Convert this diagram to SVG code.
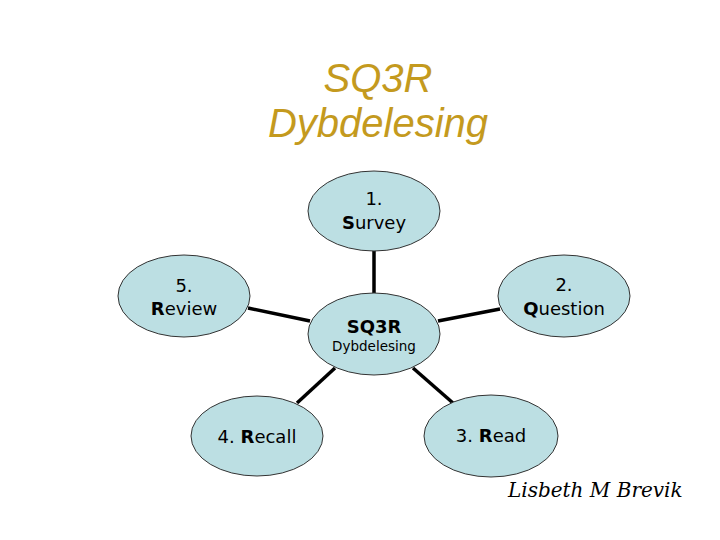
<svg xmlns="http://www.w3.org/2000/svg" width="720" height="540" viewBox="0 0 720 540">
<style>
.title{font-family:"Liberation Sans",Arial,sans-serif;font-size:40px;font-style:italic;fill:#C49A1E;text-anchor:middle}
.node ellipse{fill:#BCDFE3;stroke:#333;stroke-width:1}
.lbl{font-family:"DejaVu Sans",sans-serif;font-size:18px;fill:#000;text-anchor:middle}
.b{font-weight:bold}
.conn line{stroke:#000;stroke-width:3.5;stroke-linecap:butt}
.sig{font-family:"DejaVu Serif","Liberation Serif",serif;font-style:italic;font-size:20px;fill:#000}
</style>
<rect width="720" height="540" fill="#fff"/>
<text class="title" x="378" y="92">SQ3R</text>
<text class="title" x="378" y="137">Dybdelesing</text>
<g id="connectors" class="conn">
<line x1="374" y1="250" x2="374" y2="294"/>
<line x1="248" y1="308" x2="310" y2="321"/>
<line x1="438" y1="321" x2="500" y2="309"/>
<line x1="297" y1="403" x2="335" y2="368"/>
<line x1="413" y1="368" x2="453" y2="403"/>
</g>
<g id="survey" class="node">
<ellipse cx="374" cy="211" rx="66" ry="40"/>
<text class="lbl" x="374" y="205">1.</text>
<text class="lbl" x="374" y="229"><tspan class="b">S</tspan>urvey</text>
</g>
<g id="center" class="node">
<ellipse cx="374" cy="334" rx="66" ry="41"/>
<text class="lbl b" x="374" y="333">SQ3R</text>
<text class="lbl" x="374" y="351" style="font-size:13.5px">Dybdelesing</text>
</g>
<g id="review" class="node">
<ellipse cx="184" cy="296" rx="66" ry="41"/>
<text class="lbl" x="184" y="292">5.</text>
<text class="lbl" x="184" y="315"><tspan class="b">R</tspan>eview</text>
</g>
<g id="question" class="node">
<ellipse cx="564" cy="296" rx="66" ry="41"/>
<text class="lbl" x="564" y="291">2.</text>
<text class="lbl" x="564" y="315"><tspan class="b">Q</tspan>uestion</text>
</g>
<g id="recall" class="node">
<ellipse cx="257" cy="436" rx="66" ry="40"/>
<text class="lbl" x="257" y="443">4. <tspan class="b">R</tspan>ecall</text>
</g>
<g id="read" class="node">
<ellipse cx="491" cy="436" rx="67" ry="41"/>
<text class="lbl" x="491" y="442">3. <tspan class="b">R</tspan>ead</text>
</g>
<text class="sig" x="508" y="497">Lisbeth M Brevik</text>
</svg>
